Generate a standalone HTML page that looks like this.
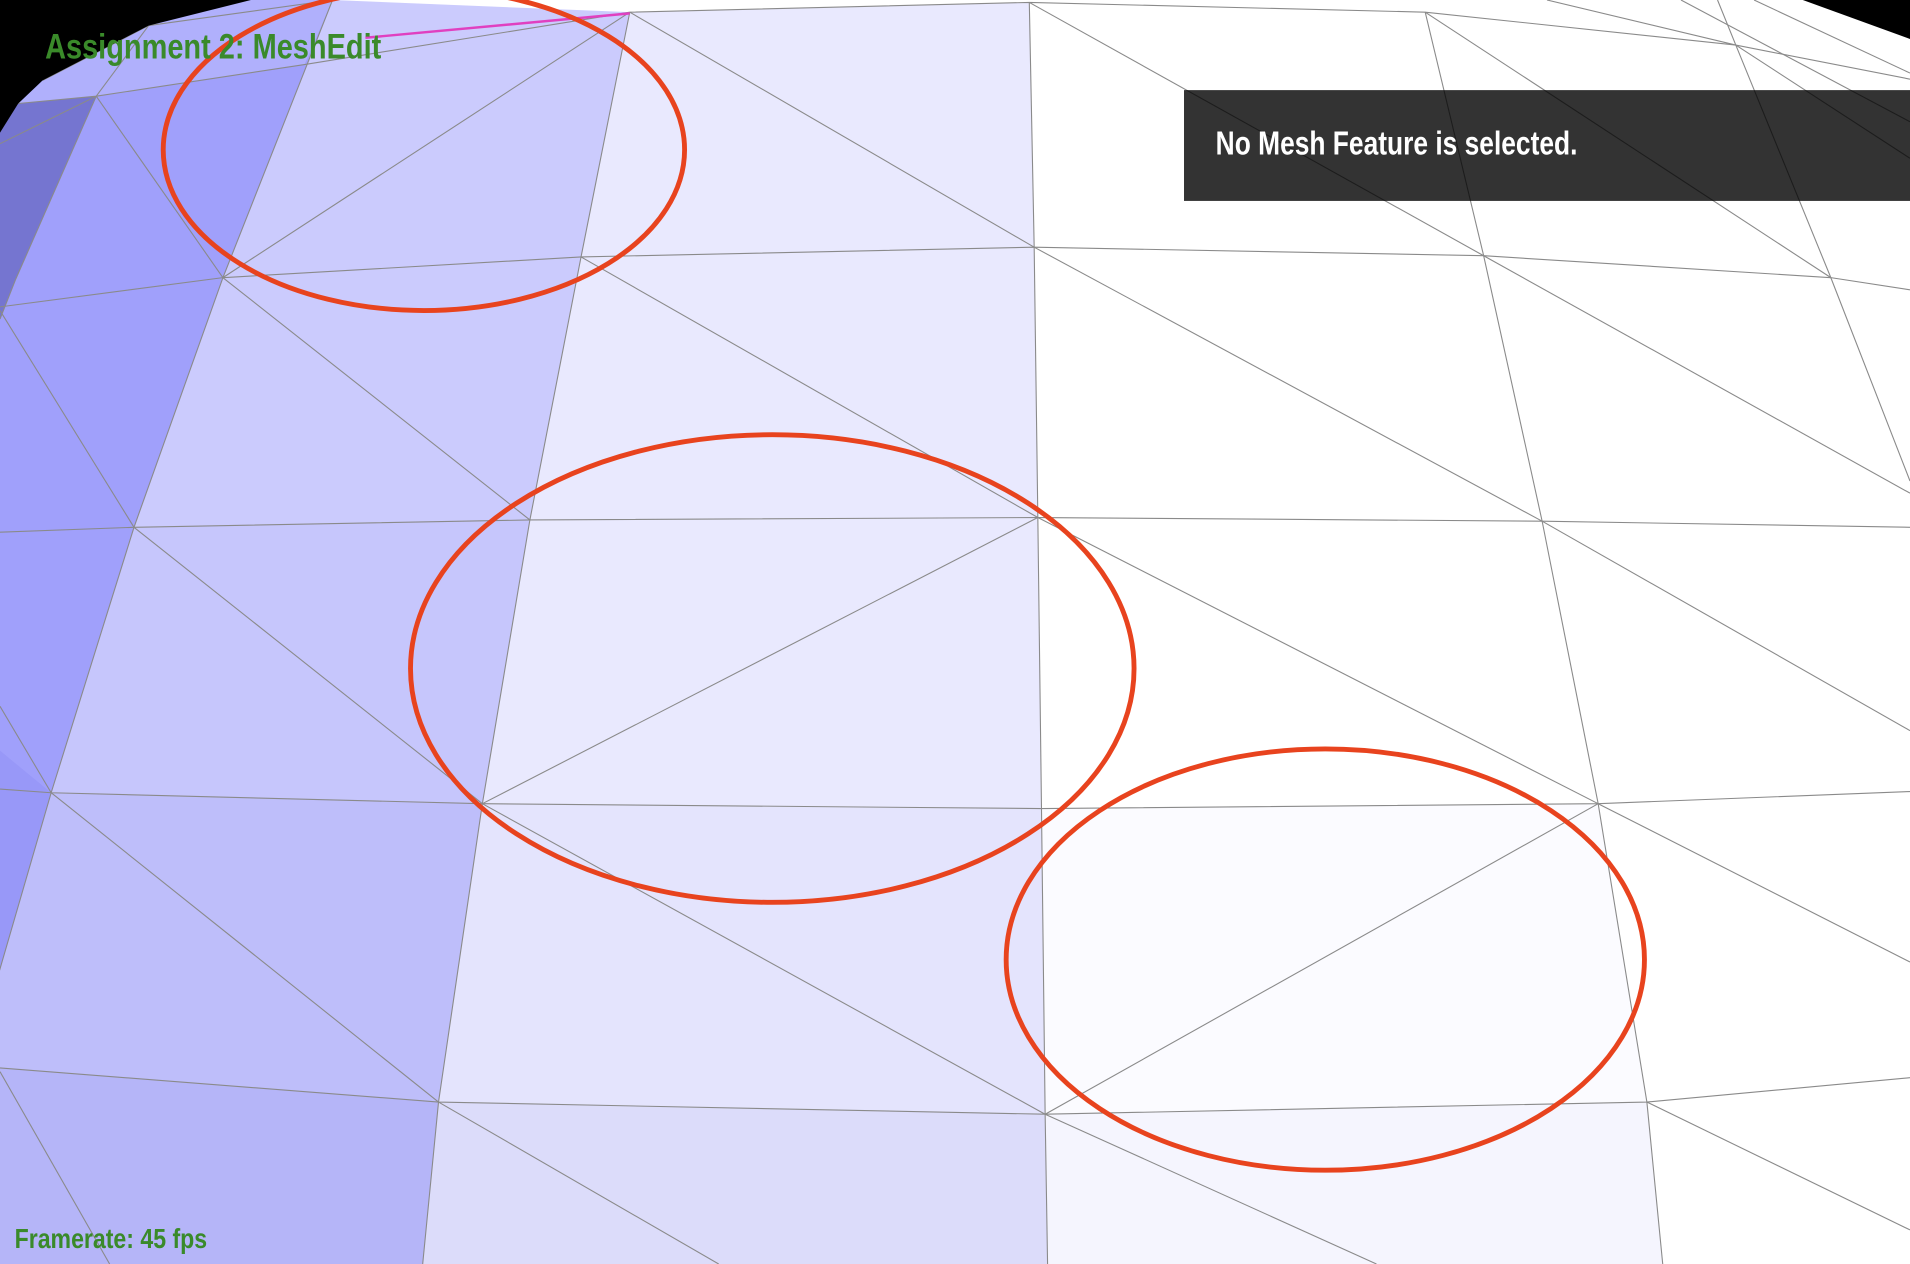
<!DOCTYPE html>
<html><head><meta charset="utf-8"><style>
html,body{margin:0;padding:0;width:1910px;height:1264px;overflow:hidden;background:#fff}
svg{display:block}
</style></head><body>
<svg width="1910" height="1264" viewBox="0 0 1568 1038" preserveAspectRatio="none" xmlns="http://www.w3.org/2000/svg">
<rect width="1568" height="1038" fill="#fff"/>
<g>
<polygon points="-20,0 273,0 183,228 110,433 42,651 -10,830 -20,830" fill="#a0a0fb"/>
<polygon points="0,0 273,0 250,53 79,79 15,85" fill="#b0b0fc"/>
<polygon points="-20,600 42,651 -10,830 -20,830" fill="#9898f8"/>
<polygon points="0,109 15,85 79,79 13,229 0,262" fill="#7575d0"/>
<polygon points="273,0 517,10 477,211 435,427 396,660 360,905 347,1038 -20,1038 -20,830 -10,830 42,651 110,433 183,228" fill="#cbcbfd"/>
<polygon points="110,433 435,427 396,660 42,651" fill="#c6c6fc"/>
<polygon points="42,651 396,660 360,905 0,877 -10,830" fill="#bebefa"/>
<polygon points="0,877 360,905 347,1038 0,1038" fill="#b5b5f8"/>
<polygon points="517,10 845,2 849,203 852,425 855,664 858,915 860,1038 347,1038 360,905 396,660 435,427 477,211" fill="#e9e9fe"/>
<polygon points="396,660 855,664 858,915 360,905" fill="#e4e4fd"/>
<polygon points="360,905 858,915 860,1038 347,1038" fill="#dcdcfa"/>
<polygon points="855,664 1312,660 1352,905 858,915" fill="#fbfbff"/>
<polygon points="858,915 1352,905 1365,1038 860,1038" fill="#f5f5fe"/>
</g>
<g fill="none" stroke="#8a8a8a" stroke-width="0.9">
<polyline points="15,85 79,79 250,53 517,10"/>
<polyline points="35,66 122,21 273,0"/>
<polyline points="79,79 122,21"/>
<polyline points="0,118 79,79"/>
<polyline points="79,79 13,229 0,262"/>
<polyline points="79,79 183,228"/>
<polyline points="273,0 183,228 110,433 42,651 -10,830"/>
<polyline points="517,10 477,211 435,427 396,660 360,905 347,1038"/>
<polyline points="845,2 849,203 852,425 855,664 858,915 860,1038"/>
<polyline points="1170,10 1218,210 1266,428 1312,660 1352,905 1365,1038"/>
<polyline points="1410,0 1425,37 1503,228 1568,395"/>
<polyline points="517,10 845,2 1170,10 1425,37 1568,65"/>
<polyline points="0,252 183,228 477,211 849,203 1218,210 1503,228 1568,238"/>
<polyline points="0,437 110,433 435,427 852,425 1266,428 1568,433"/>
<polyline points="0,648 42,651 396,660 855,664 1312,660 1568,650"/>
<polyline points="0,877 360,905 858,915 1352,905 1568,885"/>
<line x1="183" y1="228" x2="517" y2="10"/>
<line x1="183" y1="228" x2="435" y2="427"/>
<line x1="110" y1="433" x2="396" y2="660"/>
<line x1="42" y1="651" x2="360" y2="905"/>
<line x1="0" y1="880" x2="90" y2="1038"/>
<line x1="0" y1="255" x2="110" y2="433"/>
<line x1="0" y1="580" x2="42" y2="651"/>
<line x1="517" y1="10" x2="849" y2="203"/>
<line x1="477" y1="211" x2="852" y2="425"/>
<line x1="396" y1="660" x2="852" y2="425"/>
<line x1="396" y1="660" x2="858" y2="915"/>
<line x1="360" y1="905" x2="590" y2="1038"/>
<line x1="845" y1="2" x2="1218" y2="210"/>
<line x1="849" y1="203" x2="1266" y2="428"/>
<line x1="852" y1="425" x2="1312" y2="660"/>
<line x1="858" y1="915" x2="1312" y2="660"/>
<line x1="858" y1="915" x2="1130" y2="1038"/>
<line x1="1170" y1="10" x2="1503" y2="228"/>
<line x1="1218" y1="210" x2="1568" y2="405"/>
<line x1="1266" y1="428" x2="1568" y2="600"/>
<line x1="1312" y1="660" x2="1568" y2="790"/>
<line x1="1352" y1="905" x2="1568" y2="1010"/>
<line x1="1425" y1="37" x2="1568" y2="130"/>
<line x1="1270" y1="0" x2="1425" y2="37"/>
<line x1="1440" y1="0" x2="1568" y2="60"/>
<line x1="1380" y1="0" x2="1568" y2="100"/>
</g>
<polygon points="0,0 206,0 122,21 35,66 15,85 0,109" fill="#000"/>
<polygon points="1480,0 1568,0 1568,32" fill="#000"/>
<line x1="300" y1="31" x2="517" y2="11" stroke="#e040c0" stroke-width="2"/>
<g fill="none" stroke="#e8431e" stroke-width="4">
<ellipse cx="348" cy="123" rx="214" ry="132"/>
<ellipse cx="634" cy="549" rx="297" ry="192"/>
<ellipse cx="1088" cy="788" rx="262" ry="173"/>
</g>
<text x="37" y="48" font-family="'Liberation Sans Narrow','Liberation Sans',sans-serif" font-weight="bold" font-size="29" fill="#3a8a2a" textLength="276" lengthAdjust="spacingAndGlyphs">Assignment 2: MeshEdit</text>
<rect x="972" y="74" width="596" height="91" fill="#000" fill-opacity="0.8"/>
<text x="998" y="127" font-family="'Liberation Sans Narrow','Liberation Sans',sans-serif" font-weight="bold" font-size="27" fill="#fff" textLength="297" lengthAdjust="spacingAndGlyphs">No Mesh Feature is selected.</text>
<text x="12" y="1025" font-family="'Liberation Sans Narrow','Liberation Sans',sans-serif" font-weight="bold" font-size="23" fill="#3a8a2a" textLength="158" lengthAdjust="spacingAndGlyphs">Framerate: 45 fps</text>
</svg>
</body></html>
